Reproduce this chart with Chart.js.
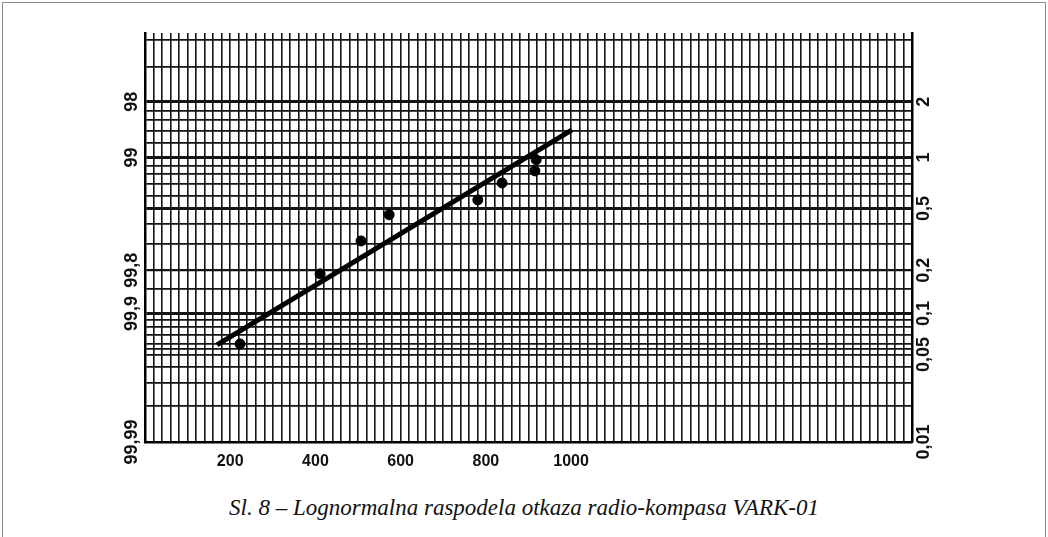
<!DOCTYPE html>
<html>
<head>
<meta charset="utf-8">
<title>Lognormalna raspodela otkaza</title>
<script src="https://cdn.jsdelivr.net/npm/chart.js@4.4.1/dist/chart.umd.min.js"></script>
<style>
  html, body { margin: 0; padding: 0; background: #fff; overflow: hidden; }
  #frame { position: absolute; left: 2px; top: 2px; width: 1042px; height: 600px; border: 1px solid #8a8a8a; }
  #wrap { position: absolute; left: 0; top: 0; width: 1048px; height: 480px; }
  #caption { position: absolute; left: 0; top: 494px; width: 1048px; text-align: center;
    font: italic 23px 'Liberation Serif', 'Times New Roman', serif; line-height: 28px; color: #111; }
</style>
</head>
<body>
<div id="frame"></div>
<div id="wrap"><canvas id="probChart"></canvas></div>
<div id="caption">Sl. 8 – Lognormalna raspodela otkaza radio-kompasa VARK-01</div>

<script>
// hours to failure and cumulative failure probability (%)
const failureHours = [223, 411, 507, 573, 781, 838, 915, 918];
const failurePct = [0.060, 0.189, 0.312, 0.457, 0.564, 0.712, 0.838, 0.970];

// fitted line ends
const fitHours = [169, 1002];
const fitPct = [0.059, 1.42];

// x axis
const xLabels = [200, 400, 600, 800, 1000];

// probability grid of the paper (right scale, %)
const gridPct = [4, 3, 2, 1.8, 1.6, 1.4, 1.2, 1, 0.9, 0.8, 0.7, 0.6, 0.5, 0.4, 0.3, 0.2, 0.15,
  0.1, 0.09, 0.08, 0.07, 0.06, 0.055, 0.05, 0.04, 0.03, 0.02, 0.01];
const rightLabels = { 2: '2', 1: '1', 0.5: '0,5', 0.2: '0,2', 0.1: '0,1', 0.05: '0,05', 0.01: '0,01' };
const leftLabels = { 2: '98', 1: '99', 0.2: '99,8', 0.1: '99,9', 0.01: '99,99' };
const heavyPct = [2, 1, 0.5, 0.1];

// inverse normal cdf (Acklam)
function normInv(q) {
  const a = [-3.969683028665376e+01, 2.209460984245205e+02, -2.759285104469687e+02, 1.383577518672690e+02, -3.066479806614716e+01, 2.506628277459239e+00];
  const b = [-5.447609879822406e+01, 1.615858368580409e+02, -1.556989798598866e+02, 6.680131188771972e+01, -1.328068155288572e+01];
  const c = [-7.784894002430293e-03, -3.223964580411365e-01, -2.400758277161838e+00, -2.549732539343734e+00, 4.374664141464968e+00, 2.938163982698783e+00];
  const d = [7.784695709041462e-03, 3.224671290700398e-01, 2.445134137142996e+00, 3.754408661907416e+00];
  const plow = 0.02425;
  let t, r;
  if (q < plow) {
    t = Math.sqrt(-2 * Math.log(q));
    return (((((c[0] * t + c[1]) * t + c[2]) * t + c[3]) * t + c[4]) * t + c[5]) /
      ((((d[0] * t + d[1]) * t + d[2]) * t + d[3]) * t + 1);
  }
  if (q <= 1 - plow) {
    t = q - 0.5; r = t * t;
    return (((((a[0] * r + a[1]) * r + a[2]) * r + a[3]) * r + a[4]) * r + a[5]) * t /
      (((((b[0] * r + b[1]) * r + b[2]) * r + b[3]) * r + b[4]) * r + 1);
  }
  t = Math.sqrt(-2 * Math.log(1 - q));
  return -(((((c[0] * t + c[1]) * t + c[2]) * t + c[3]) * t + c[4]) * t + c[5]) /
    ((((d[0] * t + d[1]) * t + d[2]) * t + d[3]) * t + 1);
}

// position on the probability axis
const zOf = (pct) => -normInv(pct / 100);

const labelFont = { family: "'Liberation Sans', Arial, sans-serif", weight: 'bold', size: 18 };

function probAxis(position, labels) {
  return {
    type: 'linear',
    position: position,
    reverse: true,
    min: 1.717,
    max: zOf(0.01),
    afterBuildTicks: (axis) => { axis.ticks = gridPct.map(p => ({ value: zOf(p) })); },
    afterFit: (axis) => { axis.width = position === 'left' ? 45 : 40; },
    ticks: {
      autoSkip: false,
      minRotation: 90,
      maxRotation: 90,
      crossAlign: 'center',
      padding: position === 'left' ? -10 : -5,
      color: '#111',
      font: labelFont,
      callback: (value, index) => labels[gridPct[index]] || ''
    },
    grid: {
      display: position === 'left',
      drawTicks: false,
      color: '#141414',
      lineWidth: (ctx) => heavyPct.includes(gridPct[ctx.index]) ? 3 : (gridPct[ctx.index] === 0.2 ? 2.3 : 1.8)
    },
    border: { display: true, color: '#000', width: 2.5 }
  };
}

const ctx = document.getElementById('probChart').getContext('2d');
new Chart(ctx, {
  data: {
    datasets: [{
      type: 'line',
      data: fitHours.map((h, i) => ({ x: h, y: zOf(fitPct[i]) })),
      borderColor: '#000',
      borderWidth: 5,
      pointRadius: 0,
      fill: false
    }, {
      type: 'scatter',
      data: failureHours.map((h, i) => ({ x: h, y: zOf(failurePct[i]) })),
      backgroundColor: '#000',
      borderColor: '#000',
      pointRadius: 5,
      pointStyle: 'circle'
    }]
  },
  options: {
    responsive: true,
    maintainAspectRatio: false,
    animation: false,
    layout: { padding: { left: 100, right: 96, top: 33, bottom: 8 } },
    plugins: { legend: { display: false }, tooltip: { enabled: false } },
    scales: {
      x: {
        type: 'linear',
        min: 0,
        max: 1800,
        afterFit: (axis) => { axis.height = 30; },
        ticks: {
          stepSize: 20,
          autoSkip: false,
          maxRotation: 0,
          padding: 10,
          color: '#111',
          font: { family: labelFont.family, weight: 'bold', size: 16 },
          callback: (value) => xLabels.includes(value) ? String(value) : ''
        },
        grid: { drawTicks: false, color: '#141414', lineWidth: 1.6 },
        border: { color: '#000', width: 2.5 }
      },
      y: probAxis('left', leftLabels),
      y2: probAxis('right', rightLabels)
    }
  }
});
</script>
</body>
</html>
